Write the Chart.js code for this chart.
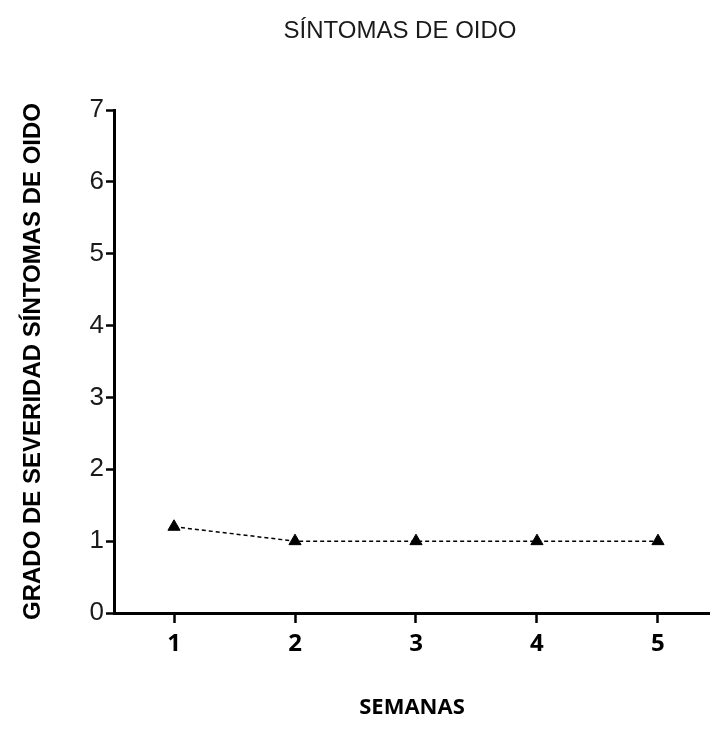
<!DOCTYPE html>
<html>
<head>
<meta charset="utf-8">
<script src="https://cdn.jsdelivr.net/npm/chart.js@4.4.1/dist/chart.umd.min.js"></script>
<style>
  html, body { margin: 0; padding: 0; background: #ffffff; }
  #wrap { position: relative; width: 710px; height: 744px; }
</style>
</head>
<body>
<div id="wrap"><canvas id="c" width="710" height="744"></canvas></div>
<script>
// ---- data ----
const chartTitle = 'SÍNTOMAS DE OIDO';
const xAxisTitle = 'SEMANAS';
const yAxisTitle = 'GRADO DE SEVERIDAD SÍNTOMAS DE OIDO';
const weeks = [1, 2, 3, 4, 5];
const weekLabels = ['1', '2', '3', '4', '5'];
const severity = [1.2, 1.0, 1.0, 1.0, 1.0];
const yTicks = [0, 1, 2, 3, 4, 5, 6, 7];

const points = weeks.map((w, i) => ({ x: w, y: severity[i] }));

const titlePlugin = {
  id: 'topTitle',
  afterDraw(chart) {
    const ctx = chart.ctx;
    ctx.save();
    ctx.fillStyle = '#1a1a1a';
    ctx.font = '24px "Liberation Sans", Arial, sans-serif';
    ctx.textAlign = 'center';
    ctx.textBaseline = 'middle';
    ctx.fillText(chartTitle, 400, 31);
    ctx.restore();
  }
};

new Chart(document.getElementById('c'), {
  type: 'scatter',
  data: {
    datasets: [{
      data: points,
      showLine: true,
      borderColor: '#000',
      borderWidth: 1.5,
      borderDash: [4, 3],
      pointStyle: 'triangle',
      pointRadius: 7,
      pointHoverRadius: 7,
      pointBackgroundColor: '#000',
      pointBorderColor: '#000',
      pointBorderWidth: 1
    }]
  },
  options: {
    responsive: false,
    animation: false,
    events: [],
    layout: { autoPadding: false, padding: { top: 110, right: 0, bottom: 0, left: 0 } },
    plugins: { legend: { display: false }, tooltip: { enabled: false }, title: { display: false } },
    scales: {
      x: {
        type: 'linear',
        min: 0.504,
        max: 5.43,
        afterBuildTicks(scale) { scale.ticks = weeks.map(v => ({ value: v })); },
        afterFit(scale) { scale.height = 131; scale.paddingRight = 0; scale.paddingLeft = 0; },
        border: { display: true, color: '#000', width: 3 },
        grid: { drawOnChartArea: false, drawTicks: true, tickLength: 10, tickWidth: 2.5, tickColor: '#000' },
        ticks: {
          padding: 7,
          color: '#000',
          font: { family: '"Open Sans", sans-serif', size: 24, weight: 'bold' },
          callback: (v) => weekLabels[weeks.indexOf(v)] ?? ''
        },
        title: {
          display: true,
          text: xAxisTitle,
          color: '#000',
          font: { family: '"Open Sans", sans-serif', size: 22, weight: 'bold' },
          padding: { top: 0, bottom: 23 }
        }
      },
      y: {
        type: 'linear',
        min: 0,
        max: 7,
        afterBuildTicks(scale) { scale.ticks = yTicks.map(v => ({ value: v })); },
        afterFit(scale) { scale.width = 114; },
        border: { display: true, color: '#000', width: 3 },
        grid: { drawOnChartArea: false, drawTicks: true, tickLength: 8, tickWidth: 2.5, tickColor: '#000' },
        ticks: {
          padding: 2,
          color: '#1a1a1a',
          font: { family: '"Liberation Sans", Arial, sans-serif', size: 26 }
        },
        title: {
          display: true,
          text: yAxisTitle,
          color: '#000',
          font: { family: '"Liberation Sans", Arial, sans-serif', size: 24, weight: 'bold' },
          padding: { top: 19, bottom: 0 }
        }
      }
    }
  },
  plugins: [titlePlugin]
});
</script>
</body>
</html>
